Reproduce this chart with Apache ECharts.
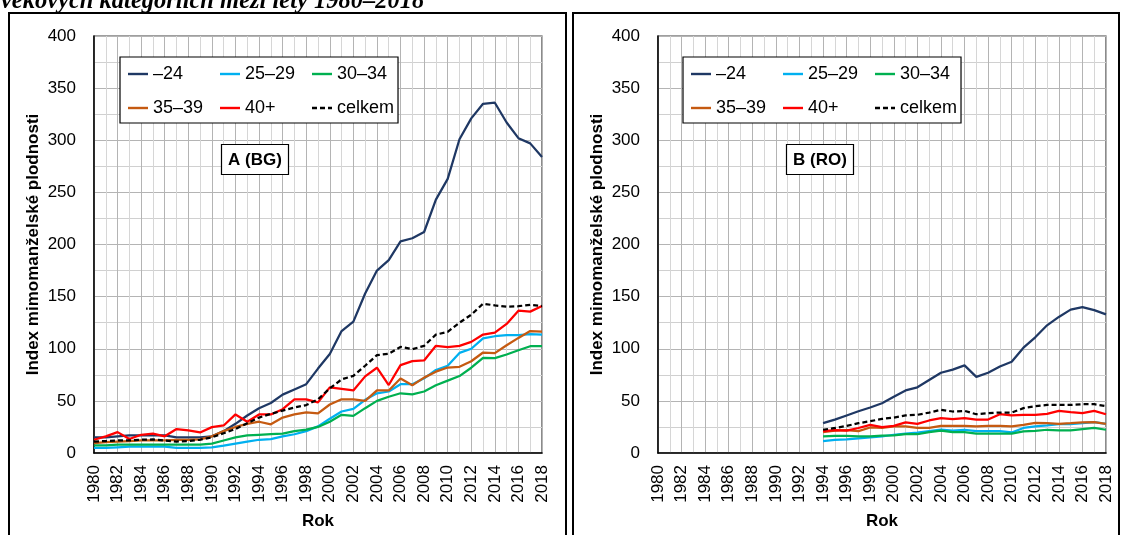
<!DOCTYPE html>
<html>
<head>
<meta charset="utf-8">
<script src="https://cdn.jsdelivr.net/npm/echarts@6/dist/echarts.min.js"></script>
<style>
  html, body { margin: 0; padding: 0; background: #fff; }
  #chart { width: 1121px; height: 535px; }
</style>
</head>
<body>
<div id="chart"></div>
<script>
// Years on the category axis
const years = ['1980','1981','1982','1983','1984','1985','1986','1987','1988','1989',
               '1990','1991','1992','1993','1994','1995','1996','1997','1998','1999',
               '2000','2001','2002','2003','2004','2005','2006','2007','2008','2009',
               '2010','2011','2012','2013','2014','2015','2016','2017','2018'];

const seriesNames = ['–24', '25–29', '30–34', '35–39', '40+', 'celkem'];

// A (BG) – index mimomanželské plodnosti podle věku
const bg24   = [15,15,16,17,17,17,17,15,15,15,16,21,28,36,43,48,56,61,66,81,95,117,126,153,175,185,203,206,212,243,263,301,321,335,336,317,302,297,284];
const bg2529 = [4.8,4.8,5.4,6,6,6,6,5,4.8,4.8,5.4,7,9,11,12.7,13.4,16,18,21,25.5,32.8,39.8,42.3,51,57.3,59,66,66,71.6,79.6,83.7,96,100,110,112,113,113,114,113.5];
const bg3034 = [7.3,7.3,8,8,8,8,8,8,8,8,9,12,15,17,17.5,18,18.5,21,22.5,25,30,36.6,35.6,43,50,54,57.3,56.3,59,65,69.4,73.8,81.8,91.3,91,94.5,98.6,102.4,102.4];
const bg3539 = [9.5,10.5,11,11.5,12,12,12,12.7,12.7,13,16,21,25,28,30,27.5,34,37,39,38,46.5,51.5,51.5,50,60,60,71.5,65,72.3,78,82,82.7,88,96.4,95.8,103.4,110.4,117,116.5];
const bg40   = [12.7,16,20,13.4,17.5,18.5,16,23,21.6,19.7,24.8,26.4,37,30,37,37,42,51.5,51.5,48.6,63,61.5,60,73.5,81.8,65.2,84.3,88.1,88.8,102.8,101.5,102.8,106.6,113.6,115.5,123.8,136.5,135.6,141];
const bgTot  = [11,11.5,12,12,12.7,13,12,11,11.5,12.7,15,19,23,28.6,34,37.5,40.7,43.6,46,51.5,62,70.6,74,83.7,93.9,95.2,101.8,99.6,102.8,113.6,116.2,125,132.7,143.2,141.6,140.3,140.8,142.2,141];

// B (RO) – data available from 1994
const _ = null;
const ro24   = [_,_,_,_,_,_,_,_,_,_,_,_,_,_,28.6,32,36,40,43.6,47.7,54,60,63,70,77,80,84,73,77,83,87.5,101,111,122.5,130.5,137.5,140,137,133];
const ro2529 = [_,_,_,_,_,_,_,_,_,_,_,_,_,_,11.5,12.5,13,14,15,16,17.5,18.5,19.5,21,22.5,21.5,22.3,21,21,21,19.7,24,25.5,26.4,27.7,27.7,28.6,29.6,28];
const ro3034 = [_,_,_,_,_,_,_,_,_,_,_,_,_,_,16,16.5,16.5,16,16,16.6,17,18,18,20,21.5,20,20,18.5,18.5,18.5,18.5,20.7,21.3,22.3,21.6,21.6,23,24,22.3];
const ro3539 = [_,_,_,_,_,_,_,_,_,_,_,_,_,_,20,21.5,22,21,24.5,24,25.5,25.5,24,24,26,26,26,25.5,26,26,25.5,27,29,28.6,28,28.6,29.3,29.6,28];
const ro40   = [_,_,_,_,_,_,_,_,_,_,_,_,_,_,21,22,21.5,24,27,24.8,26,29.3,28,31.2,33.4,32.5,33.4,32.1,32.1,37.2,36,36.6,36.6,37.5,40.4,39.1,38.2,40.4,37.2];
const roTot  = [_,_,_,_,_,_,_,_,_,_,_,_,_,_,22.3,24,26,28.6,30.5,32.7,34,36,36.6,38.8,41.4,39.8,40.4,37.2,38.2,38.8,38.8,43,44.9,46.1,46.1,46.1,46.8,46.8,44.9];

const yMin = 0, yMax = 400, yStep = 25;

const colors = ['#1f3864', '#00b0f0', '#00b050', '#c55a11', '#ff0000', '#000000'];
const FONT = '"Liberation Sans", Arial, sans-serif';

// Legend keys: a short solid stroke, or a dashed one for the total
const SOLID_KEY  = 'path://M0,0H20V2.4H0Z';
const DASHED_KEY = 'path://M0,0H5V2.4H0Z M8,0H13V2.4H8Z M16,0H20V2.4H16Z';

function makeSeries(values, gridIndex) {
  return values.map((data, i) => ({
    name: seriesNames[i],
    type: 'line',
    xAxisIndex: gridIndex,
    yAxisIndex: gridIndex,
    data: data,
    symbol: 'none',
    smooth: false,
    connectNulls: false,
    color: colors[i],
    lineStyle: { color: colors[i], width: 2.25, type: i === 5 ? [5, 3] : 'solid' },
    z: 3
  }));
}

function xAxis(gridIndex) {
  return {
    type: 'category', gridIndex: gridIndex, data: years, boundaryGap: false,
    axisLine: { show: true, lineStyle: { color: '#000', width: 1.5 } },
    axisTick: { show: false },
    axisLabel: { interval: 1, rotate: 90, margin: 12, fontSize: 17, color: '#000', fontFamily: FONT },
    splitLine: { show: true, interval: 0, lineStyle: { color: ['#b4b4b4', '#d6d6d6'], width: 1 } },
    name: 'Rok', nameLocation: 'middle', nameGap: 60,
    nameTextStyle: { fontSize: 17, fontWeight: 'bold', color: '#000', fontFamily: FONT }
  };
}

function yAxis(gridIndex) {
  return {
    type: 'value', gridIndex: gridIndex, min: yMin, max: yMax, interval: yStep,
    axisLine: { show: true, lineStyle: { color: '#000', width: 1.5 } },
    axisTick: { show: false },
    axisLabel: {
      margin: 18, fontSize: 17, color: '#000', fontFamily: FONT,
      formatter: v => (v % 50 === 0 ? String(v) : '')
    },
    splitLine: { show: true, lineStyle: { color: ['#b4b4b4', '#d0d0d0'], width: 1 } },
    name: 'Index mimomanželské plodnosti', nameLocation: 'middle', nameGap: 52,
    nameTextStyle: { fontSize: 17, fontWeight: 'bold', color: '#000', fontFamily: FONT }
  };
}

function legend(left) {
  return {
    data: seriesNames.map((n, i) => ({ name: n, icon: i === 5 ? DASHED_KEY : SOLID_KEY })),
    left: left, top: 57, width: 272,
    orient: 'horizontal',
    itemWidth: 20, itemHeight: 2.4, itemGap: 10,
    padding: [5, 4, 3, 8],
    borderColor: '#000', borderWidth: 1.2, backgroundColor: '#fff',
    selectedMode: false,
    textStyle: { fontSize: 18, color: '#000', fontFamily: FONT, width: 57, lineHeight: 24 },
    z: 5
  };
}

function panelLabel(text, left) {
  return {
    text: text, left: left, top: 144,
    padding: [6, 7, 5, 7],
    borderColor: '#000', borderWidth: 1.2, backgroundColor: '#fff',
    textStyle: { fontSize: 17, fontWeight: 'bold', color: '#000', fontFamily: FONT, lineHeight: 20 },
    z: 5
  };
}

const chart = echarts.init(document.getElementById('chart'), null, { renderer: 'canvas' });

chart.setOption({
  backgroundColor: '#fff',
  animation: false,
  title: [panelLabel('A (BG)', 221), panelLabel('B (RO)', 786)],
  legend: [legend(120), legend(683)],
  grid: [
    { left: 94, top: 36, width: 448, height: 419, show: true, borderColor: '#404040', borderWidth: 1.2, containLabel: false },
    { left: 658, top: 36, width: 448, height: 419, show: true, borderColor: '#404040', borderWidth: 1.2, containLabel: false }
  ],
  xAxis: [xAxis(0), xAxis(1)],
  yAxis: [yAxis(0), yAxis(1)],
  series: [
    ...makeSeries([bg24, bg2529, bg3034, bg3539, bg40, bgTot], 0),
    ...makeSeries([ro24, ro2529, ro3034, ro3539, ro40, roTot], 1)
  ],
  graphic: [
    { type: 'text', left: 1, top: -11, silent: true,
      style: { text: 'věkových kategoriích mezi lety 1980–2018',
               font: 'italic bold 24.5px "Liberation Serif", "Times New Roman", serif', fill: '#000' } },
    { type: 'rect', silent: true, shape: { x: 9, y: 13, width: 557, height: 600 },
      style: { fill: 'none', stroke: '#000', lineWidth: 2 } },
    { type: 'rect', silent: true, shape: { x: 573, y: 13, width: 546, height: 600 },
      style: { fill: 'none', stroke: '#000', lineWidth: 2 } }
  ]
});
</script>
</body>
</html>
